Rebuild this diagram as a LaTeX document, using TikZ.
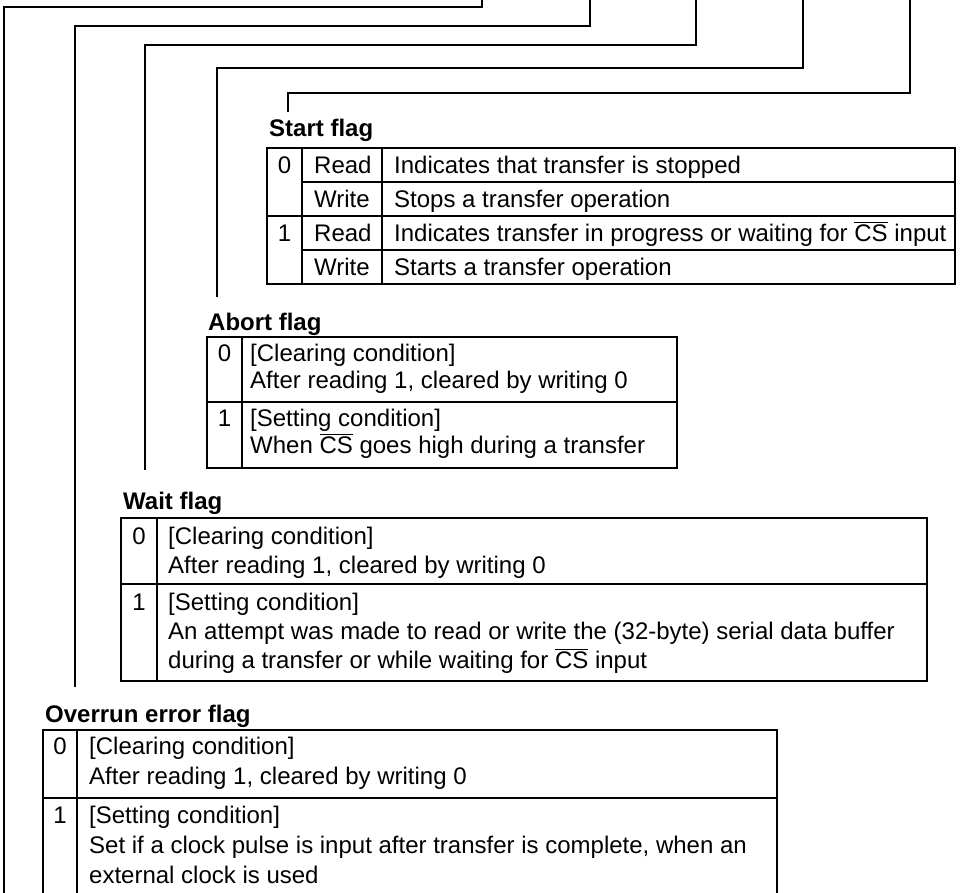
\documentclass[tikz,border=0pt]{standalone}
\usepackage{fontspec}
\setmainfont{Liberation Sans}
\usetikzlibrary{positioning}
\newcommand{\CSbar}{$\overline{\mbox{CS}}$}

\begin{document}
\begin{tikzpicture}[x=0.5pt,y=-0.5pt,line width=1.2pt,
    hd/.style={anchor=base west,inner sep=0pt,font=\fontsize{12}{14}\selectfont\bfseries},
    txt/.style={anchor=base west,inner sep=0pt,font=\fontsize{12}{14}\selectfont},
    bit/.style={anchor=base,inner sep=0pt,font=\fontsize{12}{14}\selectfont}]
  \useasboundingbox (0,0) rectangle (960,893);
  \clip (0,0) rectangle (960,893);

  % leader lines from the register bits
  \coordinate (t1) at (482,0);  \coordinate (e1) at (4,900);
  \coordinate (t2) at (590,0);  \coordinate (e2) at (75,687);
  \coordinate (t3) at (696,0);  \coordinate (e3) at (145,470);
  \coordinate (t4) at (803,0);  \coordinate (e4) at (217,297);
  \coordinate (t5) at (910,0);  \coordinate (e5) at (288,112);
  \draw (t1) -- ++(0,7)  -| (e1);
  \draw (t2) -- ++(0,26) -| (e2);
  \draw (t3) -- ++(0,45) -| (e3);
  \draw (t4) -- ++(0,68) -| (e4);
  \draw (t5) -- ++(0,93) -| (e5);

  % Start flag
  \node[hd] (startlbl) at (268,137) {Start flag};
  \draw (267,148) rectangle (955,284);
  \draw (302,148) -- (302,284) (382,148) -- (382,284);
  \draw (267,216) -- (955,216);
  \draw (302,182) -- (955,182) (302,250) -- (955,250);
  \node[bit] (s0) at (284.5,173.6) {0};
  \node[bit] (s1) at (284.5,241.6) {1};
  \node[txt] (sr0) at (313,173.6) {Read};
  \node[txt] (sw0) at (313,207.6) {Write};
  \node[txt] (sr1) at (313,241.6) {Read};
  \node[txt] (sw1) at (313,275.6) {Write};
  \node[txt] (sd1) at (393,173.6) {Indicates that transfer is stopped};
  \node[txt] (sd2) at (393,207.6) {Stops a transfer operation};
  \node[txt] (sd3) at (393,241.6) {Indicates transfer in progress or waiting for \CSbar{} input};
  \node[txt] (sd4) at (393,275.6) {Starts a transfer operation};

  % Abort flag
  \node[hd] (abortlbl) at (207,330.6) {Abort flag};
  \draw (207,337) rectangle (677,468);
  \draw (242,337) -- (242,468);
  \draw (207,402) -- (677,402);
  \node[bit] (a0) at (224.5,361.6) {0};
  \node[bit] (a1) at (224.5,426.6) {1};
  \node[txt] (ad1) at (249,361.6) {[Clearing condition]};
  \node[txt] (ad2) at (249,388.6) {After reading 1, cleared by writing 0};
  \node[txt] (ad3) at (249,426.6) {[Setting condition]};
  \node[txt] (ad4) at (249,453.6) {When \CSbar{} goes high during a transfer};

  % Wait flag
  \node[hd] (waitlbl) at (122,509.6) {Wait flag};
  \draw (121,518) rectangle (927,681);
  \draw (157,518) -- (157,681);
  \draw (121,584) -- (927,584);
  \node[bit] (w0) at (139,544.6) {0};
  \node[bit] (w1) at (139,610.6) {1};
  \node[txt] (wd1) at (167,544.6) {[Clearing condition]};
  \node[txt] (wd2) at (167,573.6) {After reading 1, cleared by writing 0};
  \node[txt] (wd3) at (167,610.6) {[Setting condition]};
  \node[txt] (wd4) at (167,639.6) {An attempt was made to read or write the (32-byte) serial data buffer};
  \node[txt] (wd5) at (167,668.6) {during a transfer or while waiting for \CSbar{} input};

  % Overrun error flag
  \node[hd] (ovrlbl) at (44,722.6) {Overrun error flag};
  \draw (43,730) rectangle (777,900);
  \draw (77,730) -- (77,900);
  \draw (43,798) -- (777,798);
  \node[bit] (o0) at (60,754.6) {0};
  \node[bit] (o1) at (60,823.6) {1};
  \node[txt] (od1) at (88,754.6) {[Clearing condition]};
  \node[txt] (od2) at (88,784.6) {After reading 1, cleared by writing 0};
  \node[txt] (od3) at (88,823.6) {[Setting condition]};
  \node[txt] (od4) at (88,853.6) {Set if a clock pulse is input after transfer is complete, when an};
  \node[txt] (od5) at (88,883.6) {external clock is used};
\end{tikzpicture}
\end{document}
